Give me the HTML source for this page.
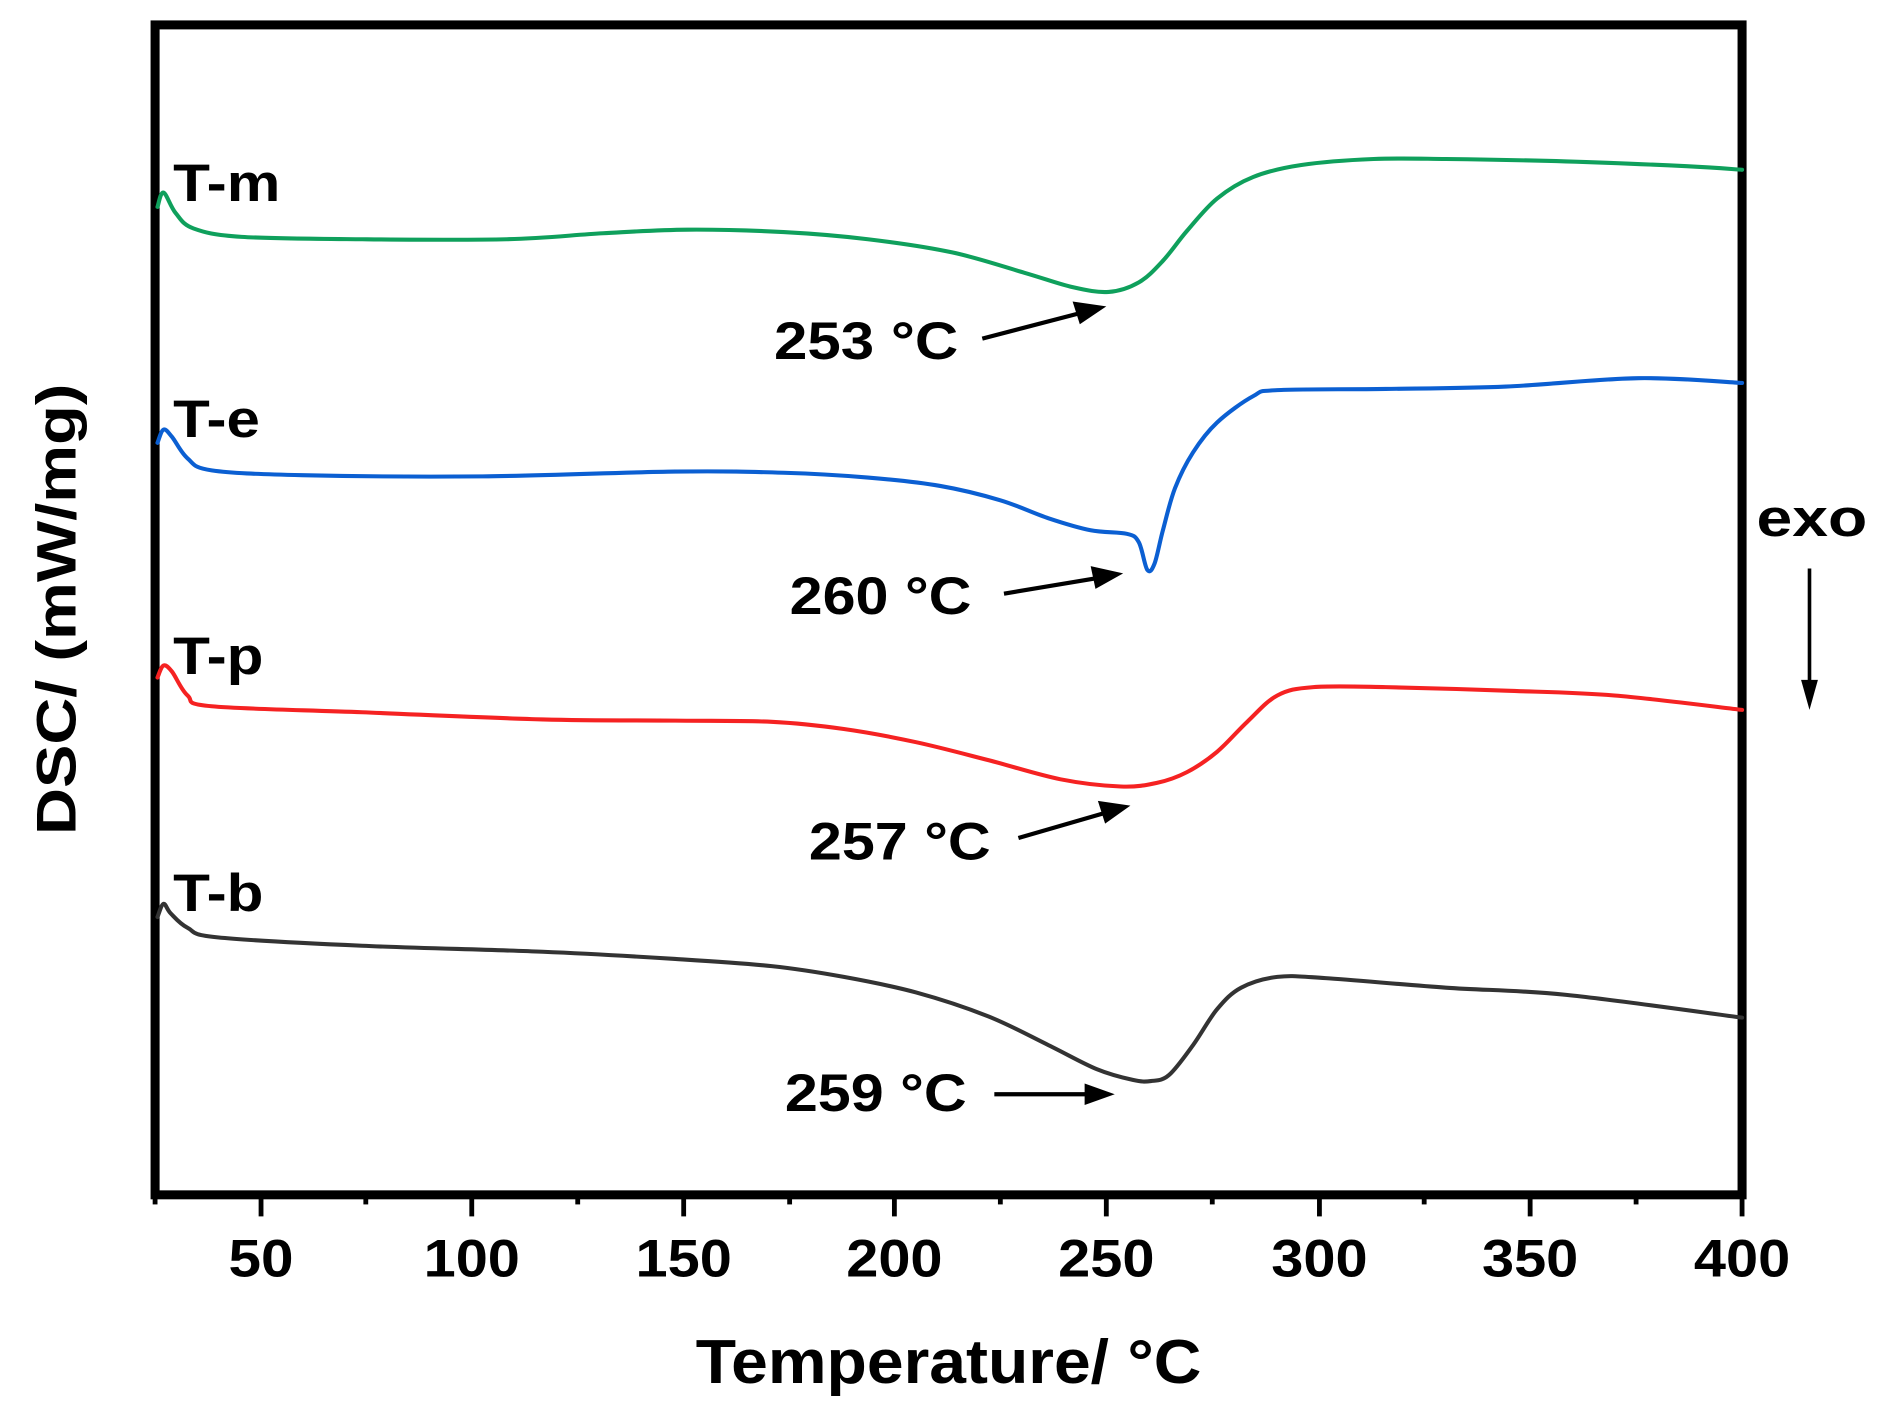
<!DOCTYPE html>
<html><head><meta charset="utf-8"><style>
html,body{margin:0;padding:0;background:#fff;}
svg{display:block;}
text{font-family:"Liberation Sans",Arial,sans-serif;font-weight:bold;fill:#000;}
</style></head><body>
<svg id="s" width="1888" height="1422" viewBox="-0.8 -2.8 1568 1187.5" preserveAspectRatio="none" xmlns="http://www.w3.org/2000/svg">
<rect x="128" y="18" width="1318" height="977" fill="none" stroke="#000" stroke-width="7.5"/>
<g stroke="#000" stroke-width="4">
<line x1="216" y1="995" x2="216" y2="1013"/><line x1="391" y1="995" x2="391" y2="1013"/>
<line x1="567" y1="995" x2="567" y2="1013"/><line x1="742" y1="995" x2="742" y2="1013"/>
<line x1="918" y1="995" x2="918" y2="1013"/><line x1="1095" y1="995" x2="1095" y2="1013"/>
<line x1="1270" y1="995" x2="1270" y2="1013"/><line x1="1446" y1="995" x2="1446" y2="1013"/>
<line x1="128" y1="995" x2="128" y2="1003"/>
<line x1="303" y1="995" x2="303" y2="1003"/><line x1="479" y1="995" x2="479" y2="1003"/>
<line x1="655" y1="995" x2="655" y2="1003"/><line x1="830" y1="995" x2="830" y2="1003"/>
<line x1="1006" y1="995" x2="1006" y2="1003"/><line x1="1182" y1="995" x2="1182" y2="1003"/>
<line x1="1358" y1="995" x2="1358" y2="1003"/>
</g>
<g font-size="44" text-anchor="middle">
<text x="216" y="1063" textLength="54" lengthAdjust="spacingAndGlyphs">50</text>
<text x="391" y="1063" textLength="80" lengthAdjust="spacingAndGlyphs">100</text>
<text x="567" y="1063" textLength="80" lengthAdjust="spacingAndGlyphs">150</text>
<text x="742" y="1063" textLength="80" lengthAdjust="spacingAndGlyphs">200</text>
<text x="918" y="1063" textLength="80" lengthAdjust="spacingAndGlyphs">250</text>
<text x="1095" y="1063" textLength="80" lengthAdjust="spacingAndGlyphs">300</text>
<text x="1270" y="1063" textLength="80" lengthAdjust="spacingAndGlyphs">350</text>
<text x="1446" y="1063" textLength="80" lengthAdjust="spacingAndGlyphs">400</text>
</g>
<text x="787" y="1152" font-size="52" text-anchor="middle" textLength="420" lengthAdjust="spacingAndGlyphs">Temperature/ °C</text>
<text transform="translate(62,506) rotate(-90)" font-size="46" text-anchor="middle" textLength="377" lengthAdjust="spacingAndGlyphs">DSC/ (mW/mg)</text>
<text x="1458" y="445" font-size="44" textLength="92" lengthAdjust="spacingAndGlyphs">exo</text>
<line x1="1502" y1="472" x2="1502" y2="570" stroke="#000" stroke-width="3"/>
<polygon points="1495,565 1509,565 1502,590" fill="#000"/>
<g font-size="44">
<text x="143" y="165" textLength="89" lengthAdjust="spacingAndGlyphs">T-m</text>
<text x="143" y="362" textLength="72" lengthAdjust="spacingAndGlyphs">T-e</text>
<text x="143" y="560" textLength="75" lengthAdjust="spacingAndGlyphs">T-p</text>
<text x="143" y="758" textLength="75" lengthAdjust="spacingAndGlyphs">T-b</text>
<text x="642" y="297" textLength="153" lengthAdjust="spacingAndGlyphs">253 °C</text>
<text x="655" y="510" textLength="151" lengthAdjust="spacingAndGlyphs">260 °C</text>
<text x="671" y="715" textLength="151" lengthAdjust="spacingAndGlyphs">257 °C</text>
<text x="651" y="925" textLength="151" lengthAdjust="spacingAndGlyphs">259 °C</text>
</g>
<g stroke="#000" stroke-width="3.5">
<line x1="815" y1="280" x2="895" y2="259"/><line x1="833" y1="493" x2="910" y2="480"/>
<line x1="845" y1="697" x2="917" y2="676"/><line x1="825" y1="911" x2="903" y2="911"/>
</g>
<g fill="#000">
<polygon points="918,253 890,249 896,268"/>
<polygon points="932,476 905,470 909,489"/>
<polygon points="938,670 911,666 917,685"/>
<polygon points="925,911 900,902 900,920"/>
</g>
<g id="curves" fill="none" stroke-width="3.4" stroke-linejoin="round" stroke-linecap="round">
<polyline stroke="#0fa05c" points="130,170 135,158 145,175 160,188 200,195 300,197 420,197 500,192 570,189 650,191 720,197 790,208 850,225 890,237 920,241 945,233 965,215 985,190 1010,163 1040,145 1080,135 1140,130 1200,130 1300,132 1400,136 1446,139"/>
<polyline stroke="#0b5fd2" points="130,367 135,356 142,362 155,380 175,390 250,394 400,395 560,391 650,392 720,396 780,403 830,415 870,430 905,440 935,443 945,450 952,473 958,468 965,440 975,405 990,375 1010,350 1040,328 1060,323 1150,322 1250,320 1360,313 1446,317"/>
<polyline stroke="#f52222" points="130,563 135,553 142,558 155,578 175,587 300,592 450,598 560,599 640,600 700,606 760,617 820,632 880,648 930,654 960,651 985,642 1010,625 1035,600 1060,578 1090,571 1150,571 1250,574 1340,578 1446,590"/>
<polyline stroke="#333" points="130,763 135,752 141,760 155,772 180,780 300,787 450,792 560,798 640,804 700,813 760,826 820,846 870,870 910,890 940,899 955,900 970,895 990,870 1010,840 1030,822 1060,813 1100,814 1200,822 1300,828 1446,847"/>
</g>
</svg>
<script>
(function(){
var pl=document.querySelectorAll('#curves polyline');
for(var k=0;k<pl.length;k++){
var p=pl[k],pts=p.getAttribute('points').trim().split(/\s+/).map(function(s){return s.split(',').map(Number);});
var d='M'+pts[0][0]+','+pts[0][1];
for(var i=0;i<pts.length-1;i++){
var p0=pts[i-1]||pts[i],p1=pts[i],p2=pts[i+1],p3=pts[i+2]||p2;
var c1x=p1[0]+(p2[0]-p0[0])/6,c1y=p1[1]+(p2[1]-p0[1])/6;
var c2x=p2[0]-(p3[0]-p1[0])/6,c2y=p2[1]-(p3[1]-p1[1])/6;
d+=' C'+c1x+','+c1y+' '+c2x+','+c2y+' '+p2[0]+','+p2[1];}
var path=document.createElementNS('http://www.w3.org/2000/svg','path');
path.setAttribute('d',d);path.setAttribute('stroke',p.getAttribute('stroke'));
p.parentNode.replaceChild(path,p);}
})();
</script>
</body></html>
